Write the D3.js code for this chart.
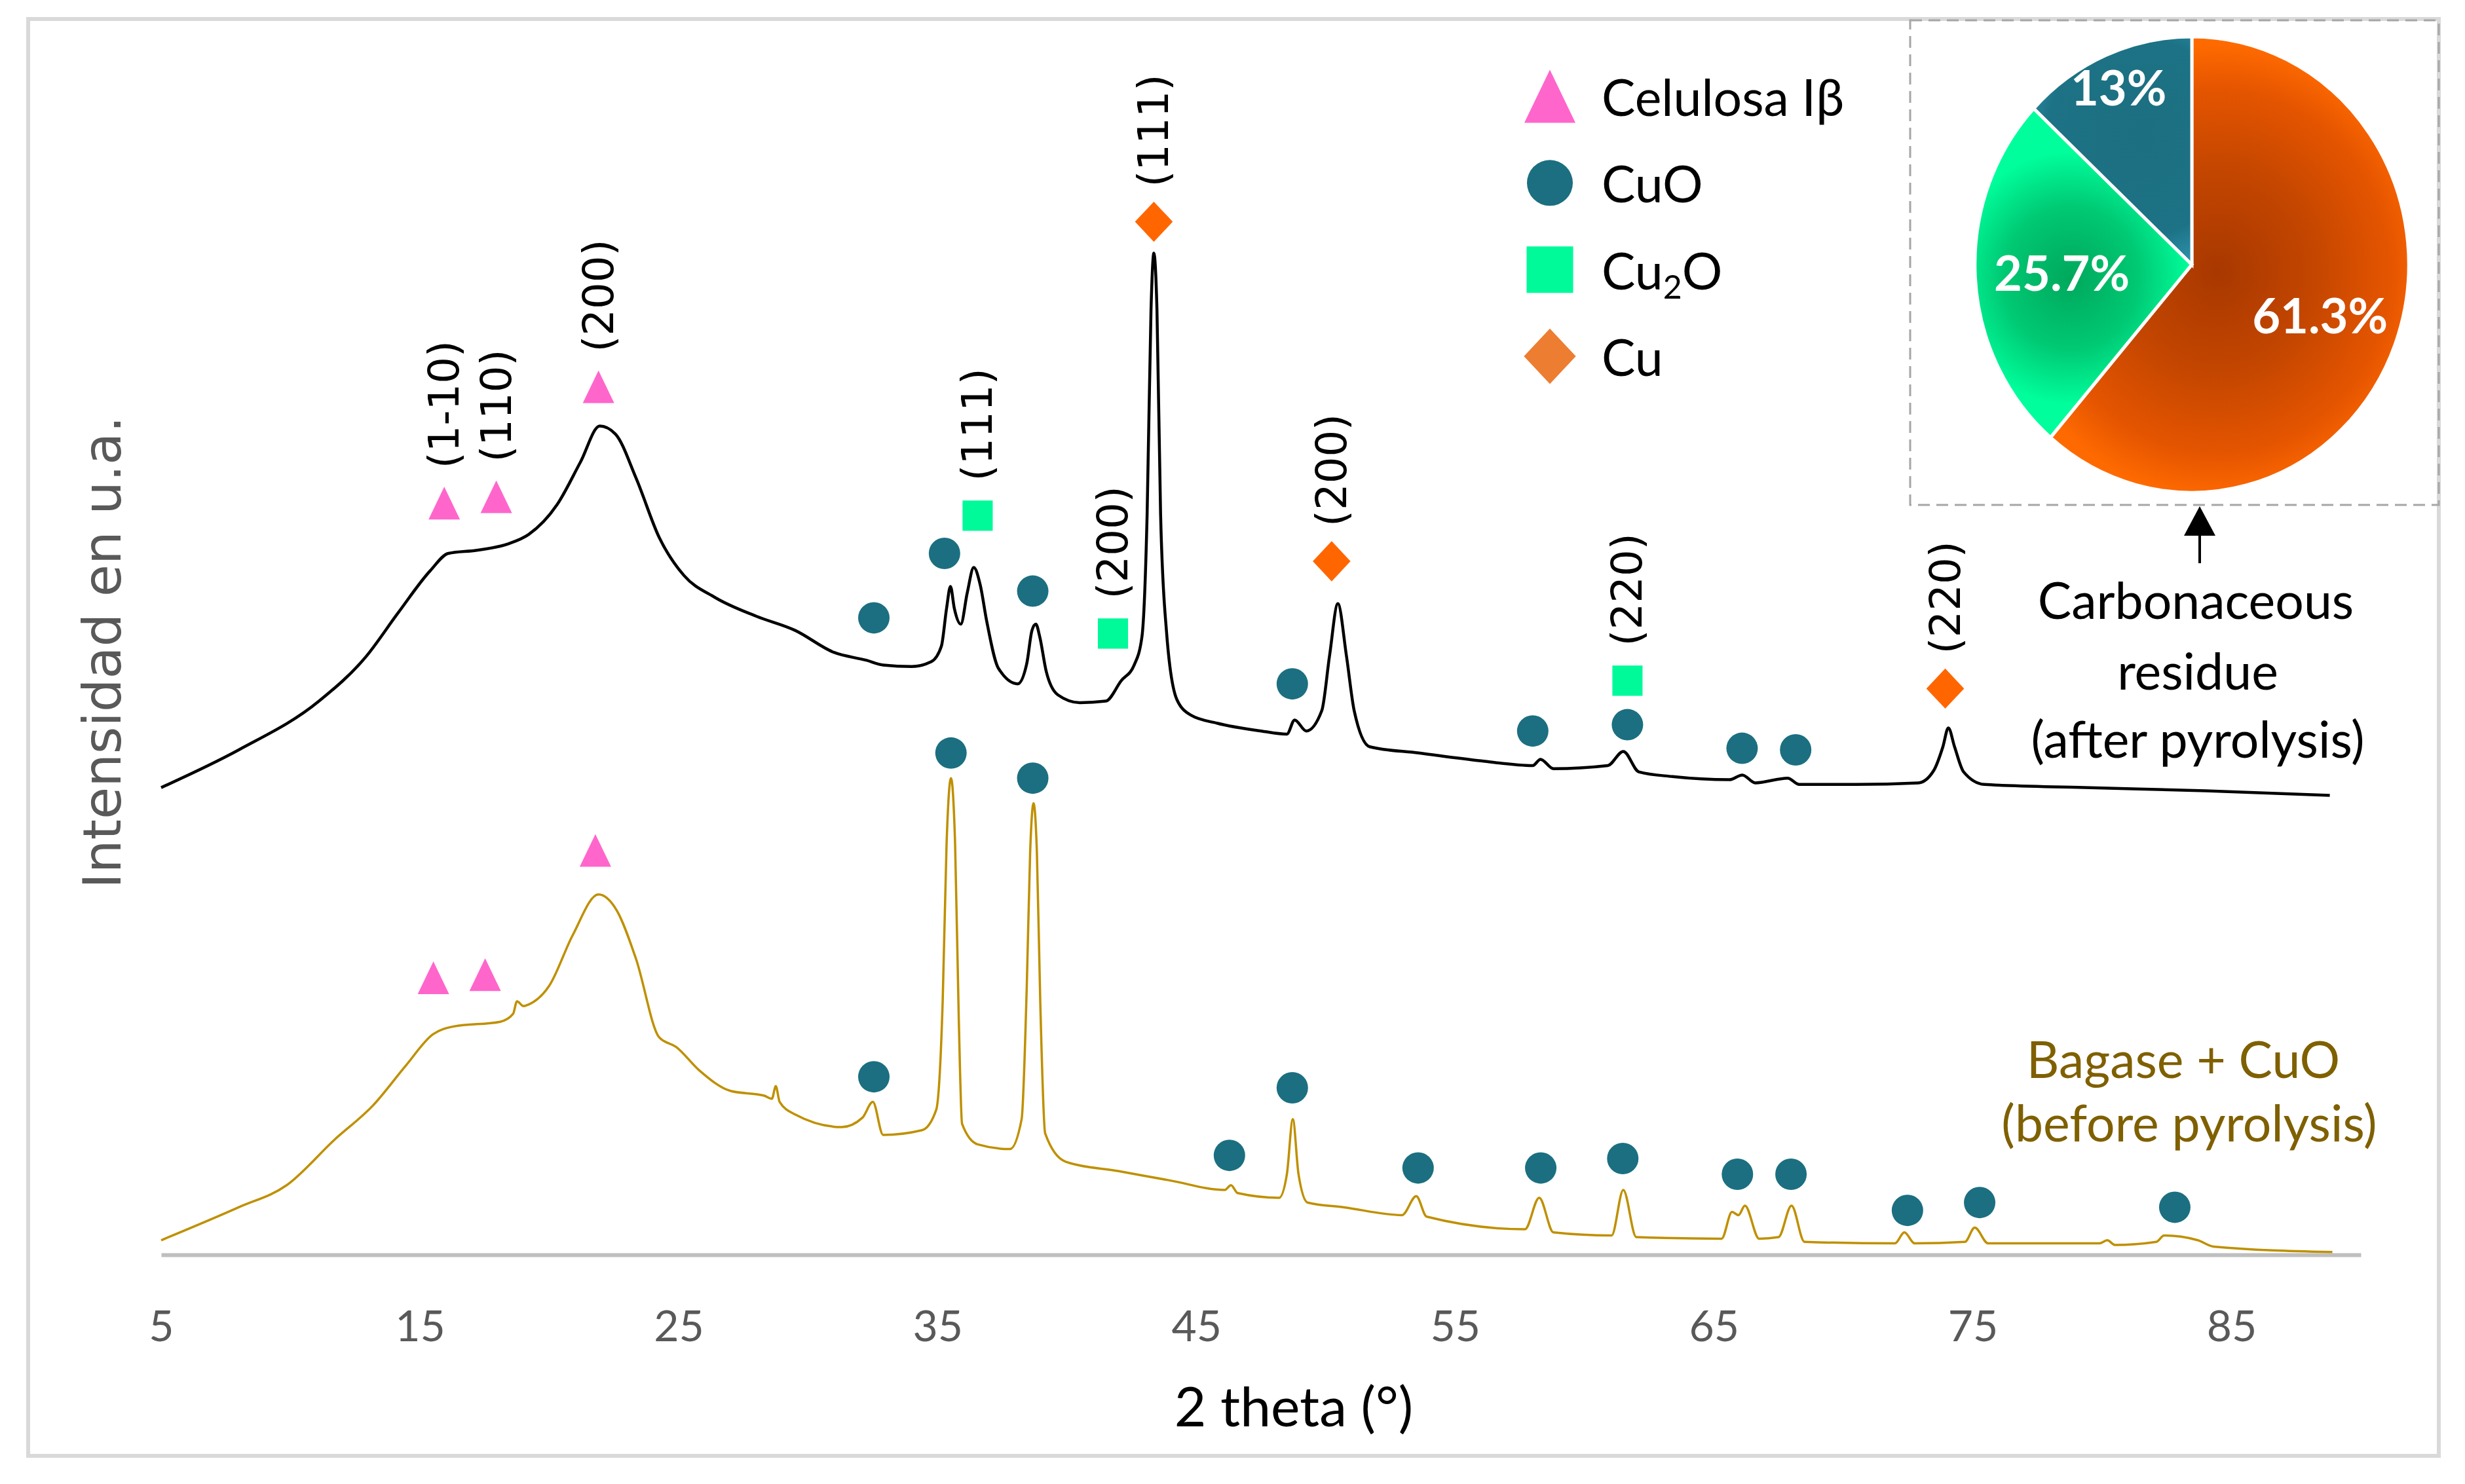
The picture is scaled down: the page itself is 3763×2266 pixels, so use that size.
<!DOCTYPE html>
<html>
<head>
<meta charset="utf-8">
<script src="https://cdn.jsdelivr.net/npm/d3@7"></script>
<style>
  body { margin: 0; background: #fff; }
</style>
</head>
<body>
<div id="chart"></div>
<script>
// ---- data (intensity in arbitrary units) ----
const xTicks = [5, 15, 25, 35, 45, 55, 65, 75, 85]

// after pyrolysis (black trace)
const afterTheta = [5.0, 8.0, 11.1, 12.9, 14.15, 15.4, 16.1, 17.2, 18.4, 19.2, 20.3, 21.2, 21.95, 22.55, 23.35, 24.25, 25.2, 26.4, 28.0, 29.5, 31.0, 32.25, 32.9, 34.0, 34.75, 35.15, 35.35, 35.5, 35.65, 35.9, 36.15, 36.4, 36.65, 36.9, 37.35, 38.1, 38.45, 38.65, 38.8, 38.95, 39.2, 39.65, 40.5, 41.5, 42.1, 42.6, 42.9, 43.1, 43.25, 43.36, 43.48, 43.62, 43.85, 44.25, 44.8, 45.8, 47.5, 48.5, 48.8, 49.25, 49.85, 50.15, 50.47, 50.8, 51.1, 51.7, 53.6, 56.0, 58.0, 58.3, 58.8, 60.9, 61.5, 62.1, 63.4, 65.6, 66.1, 66.6, 67.85, 68.3, 70.5, 72.9, 73.5, 73.85, 74.06, 74.3, 74.65, 75.45, 79.3, 84.0, 88.8]
const afterCounts = [296, 320, 351, 379, 407, 434, 445, 447, 451, 457, 476, 503, 526, 521, 493, 455, 431, 417, 405, 396, 382, 377, 374, 373, 376, 386, 410, 424, 410, 400, 420, 436, 425, 402, 372, 362, 375, 396, 400, 392, 370, 355, 350, 351, 364, 374, 392, 470, 600, 636, 600, 470, 395, 352, 342, 337, 332, 330, 339, 332, 345, 380, 413, 380, 345, 322, 318, 313, 310, 314, 308, 310, 319, 306, 303, 301, 304, 299, 302, 298, 298, 299, 307, 322, 334, 322, 306, 298, 296, 294, 291]

// before pyrolysis (gold trace)
const beforeTheta = [5.0, 8.0, 9.85, 11.7, 13.2, 14.45, 15.5, 16.3, 18.1, 18.6, 18.75, 19.0, 19.2, 20.0, 20.9, 21.9, 22.6, 23.35, 24.25, 24.9, 25.8, 27.0, 28.3, 28.6, 28.75, 28.9, 29.5, 31.3, 32.1, 32.5, 32.9, 34.4, 34.95, 35.2, 35.35, 35.52, 35.68, 35.82, 35.95, 36.55, 37.8, 38.25, 38.45, 38.58, 38.71, 38.84, 38.97, 39.16, 39.95, 42.0, 44.0, 46.1, 46.34, 46.6, 48.2, 48.5, 48.73, 48.95, 49.3, 50.7, 52.95, 53.5, 53.9, 57.7, 58.25, 58.8, 61.05, 61.5, 62.0, 65.3, 65.7, 65.95, 66.2, 66.75, 67.5, 68.0, 68.5, 72.0, 72.36, 72.76, 74.7, 75.08, 75.6, 79.9, 80.2, 80.5, 82.1, 82.4, 83.7, 84.3, 88.9]
const beforeCounts = [8, 29, 43, 72, 94, 119, 139, 144, 147, 152, 160, 157, 158, 170, 202, 228, 218, 187, 137, 131, 116, 103, 100, 98, 106, 96, 88, 80, 86, 96, 75, 78, 91, 160, 260, 302, 260, 150, 82, 69, 66, 85, 170, 255, 286, 255, 160, 76, 58, 52, 46, 40, 43, 38, 35, 50, 85, 50, 32, 29, 24, 36, 23, 15, 35, 13, 11, 40, 10, 9, 26, 24, 30, 9, 10, 30, 7, 6, 13, 6, 7, 16, 6, 6, 8, 5, 7, 11, 8, 4, 0.5]

// phase markers: [phase, 2theta, intensity, hkl label]
const afterMarkers = [
  ['cel', 15.94, 477, '(1-10)'], ['cel', 17.95, 481, '(110)'], ['cel', 21.9, 551, '(200)'],
  ['cuo', 32.54, 404, ''], ['cuo', 35.27, 445, ''], ['cuo', 38.68, 421, ''], ['cuo', 48.71, 362, ''],
  ['cuo', 58.0, 332, ''], ['cuo', 61.66, 336, ''], ['cuo', 66.09, 321, ''], ['cuo', 68.16, 320, ''],
  ['cu2o', 36.55, 469, '(111)'], ['cu2o', 41.78, 394, '(200)'], ['cu2o', 61.66, 364, '(220)'],
  ['cu', 43.36, 656, '(111)'], ['cu', 50.23, 440, '(200)'], ['cu', 73.94, 359, '(220)']
]
const beforeMarkers = [
  ['cel', 15.52, 175], ['cel', 17.52, 177], ['cel', 21.78, 256],
  ['cuo', 32.54, 112], ['cuo', 35.52, 318], ['cuo', 38.68, 302], ['cuo', 46.28, 62],
  ['cuo', 48.71, 105], ['cuo', 53.57, 54], ['cuo', 58.31, 54], ['cuo', 61.48, 60],
  ['cuo', 65.91, 50], ['cuo', 67.98, 50], ['cuo', 72.48, 27], ['cuo', 75.27, 32], ['cuo', 82.81, 29]
]

// legend and pie
const legendPhases = ['cel', 'cuo', 'cu2o', 'cu']
const legendNames = ['Celulosa Iβ', 'CuO', 'Cu2O', 'Cu']
const pieNames = ['Cu', 'Cu2O', 'CuO']
const pieValues = [61.3, 25.7, 13]
const pieText = ['61.3%', '25.7%', '13%']

// ---- drawing ----
const width = 3763
const height = 2266
const calibri = 'Lato, "Open Sans", sans-serif'
const verdana = '"DejaVu Sans", Verdana, sans-serif'

const phaseColor = { cel: '#FF66CC', cuo: '#1B6F80', cu2o: '#00FA9A', cu: '#FF6600' }

const svg = d3.select('#chart')
  .append('svg')
  .attr('width', width)
  .attr('height', height)

// outer frame
svg.append('rect')
  .attr('x', 43).attr('y', 29)
  .attr('width', 3680).attr('height', 2194)
  .attr('fill', 'none')
  .attr('stroke', '#D9D9D9')
  .attr('stroke-width', 6)

// scales
const xScale = d3.scaleLinear().domain([5, 90]).range([246, 3604])
const yScale = d3.scaleLinear().domain([0, 780]).range([1913, 41])

// x axis
const xAxis = d3.axisBottom(xScale)
  .tickValues(xTicks)
  .tickSize(0)
  .tickSizeOuter(0)
  .tickPadding(85)

const xAxisGroup = svg.append('g')
  .attr('transform', 'translate(0,1916)')
  .call(xAxis)

xAxisGroup.select('.domain')
  .attr('stroke', '#BFBFBF')
  .attr('stroke-width', 6)
xAxisGroup.selectAll('.tick text')
  .attr('font-family', calibri)
  .attr('font-size', 66)
  .attr('fill', '#595959')

svg.append('text')
  .attr('x', 1975).attr('y', 2178)
  .attr('text-anchor', 'middle')
  .attr('font-family', calibri)
  .attr('font-size', 84)
  .attr('fill', '#000')
  .text('2 theta (°)')

// y label (no axis drawn)
svg.append('text')
  .attr('transform', 'translate(184,996) rotate(-90)')
  .attr('text-anchor', 'middle')
  .attr('font-family', verdana)
  .attr('font-size', 80)
  .attr('fill', '#595959')
  .text('Intensidad en u.a.')

// traces
const line = d3.line()
  .x(d => xScale(d[0]))
  .y(d => yScale(d[1]))
  .curve(d3.curveMonotoneX)

svg.append('path')
  .datum(d3.zip(beforeTheta, beforeCounts))
  .attr('d', line)
  .attr('fill', 'none')
  .attr('stroke', '#BF9000')
  .attr('stroke-width', 3.5)

svg.append('path')
  .datum(d3.zip(afterTheta, afterCounts))
  .attr('d', line)
  .attr('fill', 'none')
  .attr('stroke', '#000')
  .attr('stroke-width', 4.5)

// marker shapes, centered on 0,0
function shape(phase, s) {
  if (phase === 'cel') return `M0,${-s * 0.52}L${s * 0.5},${s * 0.52}L${-s * 0.5},${s * 0.52}Z`
  if (phase === 'cu2o') return `M${-s * 0.48},${-s * 0.48}h${s * 0.96}v${s * 0.96}h${-s * 0.96}Z`
  if (phase === 'cu') return `M0,${-s * 0.64}L${s * 0.6},0L0,${s * 0.64}L${-s * 0.6},0Z`
  return d3.arc()({ innerRadius: 0, outerRadius: s * 0.5, startAngle: 0, endAngle: 2 * Math.PI })
}

function drawMarkers(list) {
  const g = svg.append('g')
  g.selectAll('path')
    .data(list)
    .join('path')
    .attr('transform', d => `translate(${xScale(d[1])},${yScale(d[2])})`)
    .attr('d', d => shape(d[0], 48))
    .attr('fill', d => phaseColor[d[0]])

  g.selectAll('text')
    .data(list.filter(d => d[3]))
    .join('text')
    .attr('transform', d => `translate(${xScale(d[1])},${yScale(d[2]) - 53}) rotate(-90)`)
    .attr('dominant-baseline', 'central')
    .attr('font-family', verdana)
    .attr('font-size', 64)
    .attr('fill', '#000')
    .text(d => d[3])
}
drawMarkers(afterMarkers)
drawMarkers(beforeMarkers)

// series captions
const capAfter = svg.append('text')
  .attr('text-anchor', 'middle')
  .attr('font-family', calibri)
  .attr('font-size', 77)
  .attr('fill', '#000')
capAfter.append('tspan').attr('x', 3352).attr('y', 945).text('Carbonaceous')
capAfter.append('tspan').attr('x', 3355).attr('y', 1053).text('residue')
capAfter.append('tspan').attr('x', 3355).attr('y', 1157).text('(after pyrolysis)')

const capBefore = svg.append('text')
  .attr('text-anchor', 'middle')
  .attr('font-family', calibri)
  .attr('font-size', 77)
  .attr('fill', '#7F6000')
capBefore.append('tspan').attr('x', 3333).attr('y', 1646).text('Bagase + CuO')
capBefore.append('tspan').attr('x', 3342).attr('y', 1743).text('(before pyrolysis)')

// legend
const legendY = d3.scaleLinear().domain([0, 3]).range([147, 544])
const legendShapeColor = { cel: '#FF66CC', cuo: '#1B6F80', cu2o: '#00FA9A', cu: '#ED7D31' }
const legendSize = { cel: 78, cuo: 70, cu2o: 74, cu: 66 }
const legend = svg.append('g')
legend.selectAll('path')
  .data(legendPhases)
  .join('path')
  .attr('transform', (d, i) => `translate(2366,${legendY(i)})`)
  .attr('d', d => shape(d, legendSize[d]))
  .attr('fill', d => legendShapeColor[d])

legend.selectAll('text')
  .data(legendNames)
  .join('text')
  .attr('x', 2445)
  .attr('y', (d, i) => legendY(i) + 30)
  .attr('font-family', calibri)
  .attr('font-size', 77)
  .attr('fill', '#000')
  .each(function (d) {
    const t = d3.select(this)
    if (d === 'Cu2O') {
      t.append('tspan').text('Cu')
      t.append('tspan').attr('font-size', 50).attr('dy', 14).text('2')
      t.append('tspan').attr('dy', -14).text('O')
    } else {
      t.text(d)
    }
  })

// inset pie (carbonaceous residue)
svg.append('rect')
  .attr('x', 2916).attr('y', 31)
  .attr('width', 807).attr('height', 740)
  .attr('fill', 'none')
  .attr('stroke', '#A6A6A6')
  .attr('stroke-width', 3)
  .attr('stroke-dasharray', '18,10')

const pieCx = 3346
const pieCy = 404
const pieR = 340
const sx = 0.974
const sy = 1.024

const pie = d3.pie().sort(null)(pieValues)
const arc = d3.arc().innerRadius(0).outerRadius(pieR)

const defs = svg.append('defs')
const gradStops = {
  Cu: [['0', '#A83800'], ['0.45', '#C44600'], ['0.8', '#E55500'], ['1', '#FF6A00']],
  Cu2O: [['0', '#00A85C'], ['0.55', '#00C873'], ['1', '#00FF9C']],
  CuO: [['0', '#1B6F80'], ['0.7', '#1D7285'], ['1', '#2E97B3']]
}
const gradCenter = {
  Cu: [40, 10, pieR],
  Cu2O: [-190, 20, 190],
  CuO: [-80, -190, 210]
}
pieNames.forEach(n => {
  const c = gradCenter[n]
  const gr = defs.append('radialGradient')
    .attr('id', 'g-' + n)
    .attr('gradientUnits', 'userSpaceOnUse')
    .attr('cx', c[0]).attr('cy', c[1]).attr('r', c[2])
  gradStops[n].forEach(s => gr.append('stop').attr('offset', s[0]).attr('stop-color', s[1]))
})

const pieG = svg.append('g')
  .attr('transform', `translate(${pieCx},${pieCy}) scale(${sx},${sy})`)
pieG.selectAll('path')
  .data(pie)
  .join('path')
  .attr('d', arc)
  .attr('fill', (d, i) => `url(#g-${pieNames[i]})`)
  .attr('stroke', '#fff')
  .attr('stroke-width', 5)

const labelFrac = [0.63, 0.6, 0.85]
svg.append('g')
  .selectAll('text')
  .data(pie)
  .join('text')
  .attr('x', (d, i) => pieCx + Math.sin((d.startAngle + d.endAngle) / 2) * pieR * labelFrac[i] * sx)
  .attr('y', (d, i) => pieCy - Math.cos((d.startAngle + d.endAngle) / 2) * pieR * labelFrac[i] * sy)
  .attr('text-anchor', 'middle')
  .attr('dominant-baseline', 'central')
  .attr('font-family', calibri)
  .attr('font-weight', 'bold')
  .attr('font-size', 74)
  .attr('fill', '#fff')
  .text((d, i) => pieText[i])

// arrow from caption to inset
svg.append('line')
  .attr('x1', 3358).attr('y1', 860)
  .attr('x2', 3358).attr('y2', 812)
  .attr('stroke', '#000')
  .attr('stroke-width', 4)
svg.append('path')
  .attr('d', 'M3358,773L3382,818L3334,818Z')
  .attr('fill', '#000')
</script>
</body>
</html>
